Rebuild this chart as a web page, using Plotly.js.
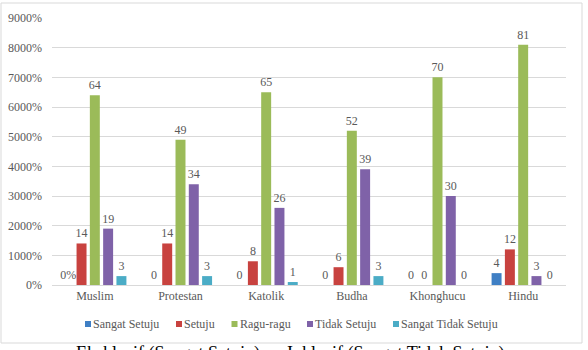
<!DOCTYPE html>
<html>
<head>
<meta charset="utf-8">
<script src="https://cdn.plot.ly/plotly-3.0.1.min.js"></script>
<style>
  html, body { margin: 0; padding: 0; background: #ffffff; }
  #chart { width: 588px; height: 350px; }
</style>
</head>
<body>
<div id="chart"></div>
<script>
var categories = ["Muslim", "Protestan", "Katolik", "Budha", "Khonghucu", "Hindu"];
var seriesNames = ["Sangat Setuju", "Setuju", "Ragu-ragu", "Tidak Setuju", "Sangat Tidak Setuju"];
var sangatSetuju = [0, 0, 0, 0, 0, 4];
var setuju = [14, 14, 8, 6, 0, 12];
var raguRagu = [64, 49, 65, 52, 70, 81];
var tidakSetuju = [19, 34, 26, 39, 30, 3];
var sangatTidakSetuju = [3, 3, 1, 3, 0, 0];
var sangatSetujuLabels = ["0%", "0", "0", "0", "0", "4"];
var yTickVals = [0, 10, 20, 30, 40, 50, 60, 70, 80, 90];
var caption = "Eksklusif (Sangat Setuju) \u2192 Inklusif (Sangat Tidak Setuju)";

var SERIF = "Liberation Serif";
var colors = ["#3F7FC4", "#C8423F", "#9BBB59", "#7F62A8", "#4BACC6"];
var values = [sangatSetuju, setuju, raguRagu, tidakSetuju, sangatTidakSetuju];
var labelFont = { family: SERIF, size: 12, color: "#595959" };

var traces = values.map(function (v, i) {
  return {
    type: "bar",
    name: seriesNames[i],
    x: categories,
    y: v,
    text: i === 0 ? sangatSetujuLabels : v.map(String),
    textposition: "outside",
    textfont: labelFont,
    constraintext: "none",
    cliponaxis: false,
    marker: { color: colors[i] },
    hoverinfo: "none",
    showlegend: false
  };
});

var L = 52, R = 566, T = 18, B = 285;
function px(x) { return (x - L) / (R - L); }
function py(y) { return (B - y) / (B - T); }

// legend layout (pixel positions of the swatches)
var legendSwatchX = [85, 176, 231.5, 307, 393];
var legendY = 324;
var shapes = [
  {
    type: "rect", xref: "paper", yref: "paper",
    x0: px(1), x1: px(582), y0: py(343), y1: py(3),
    line: { color: "#d9d9d9", width: 1 },
    fillcolor: "rgba(0,0,0,0)"
  }
];
var annotations = [
  {
    xref: "paper", yref: "paper",
    x: px(290), y: py(341),
    xanchor: "center", yanchor: "top",
    text: caption,
    showarrow: false,
    font: { family: SERIF, size: 18, color: "#000000" }
  }
];
seriesNames.forEach(function (name, i) {
  var sx = legendSwatchX[i];
  shapes.push({
    type: "rect", xref: "paper", yref: "paper",
    x0: px(sx), x1: px(sx + 6), y0: py(legendY + 3), y1: py(legendY - 3),
    line: { width: 0 }, fillcolor: colors[i]
  });
  annotations.push({
    xref: "paper", yref: "paper",
    x: px(sx + 6), y: py(legendY),
    xanchor: "left", yanchor: "middle",
    text: name, showarrow: false,
    font: { family: SERIF, size: 12, color: "#595959" }
  });
});

var layout = {
  width: 588,
  height: 350,
  margin: { l: L, r: 588 - R, t: T, b: 350 - B, autoexpand: false },
  paper_bgcolor: "#ffffff",
  plot_bgcolor: "#ffffff",
  barmode: "group",
  bargap: 0.224,
  bargroupgap: 0.25,
  font: labelFont,
  showlegend: false,
  xaxis: {
    type: "category",
    showline: true,
    linecolor: "#d9d9d9",
    linewidth: 1,
    ticks: "",
    showgrid: false,
    tickfont: labelFont,
    fixedrange: true
  },
  yaxis: {
    range: [0, 90],
    tickvals: yTickVals,
    tickformat: ".0%",
    showgrid: true,
    gridcolor: "#d9d9d9",
    gridwidth: 1,
    zeroline: false,
    showline: false,
    ticks: "",
    ticklabelstandoff: 9,
    tickfont: labelFont,
    fixedrange: true
  },
  shapes: shapes,
  annotations: annotations
};

Plotly.newPlot("chart", traces, layout, { displayModeBar: false, staticPlot: true });
</script>
</body>
</html>
